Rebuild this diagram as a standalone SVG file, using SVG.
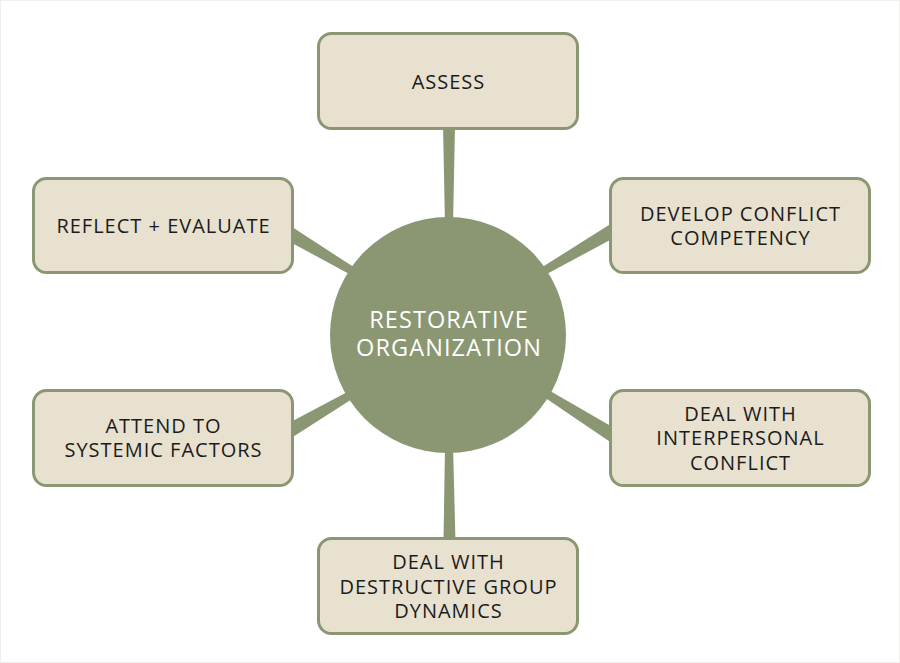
<svg xmlns="http://www.w3.org/2000/svg" width="900" height="663" viewBox="0 0 900 663">
  <style>
    .box rect { fill: #e8e1d0; stroke: #8b9672; stroke-width: 3; }
    .box text { font-family: "Open Sans", "Liberation Sans", sans-serif; font-size: 20px; letter-spacing: 1px; fill: #1b1b1b; text-anchor: middle; }
    .hub circle { fill: #8b9672; }
    .hub text { font-family: "Open Sans", "Liberation Sans", sans-serif; font-size: 23.5px; letter-spacing: 1.1px; fill: #ffffff; text-anchor: middle; }
    .spoke { fill: #8b9672; }
  </style>

  <!-- page -->
  <rect x="0.5" y="0.5" width="899" height="662" fill="#ffffff" stroke="#efefeb" stroke-width="1"/>

  <!-- tapered spokes from the hub to each box -->
  <g id="connectors">
    <polygon class="spoke" points="445,225 453,225 455,125 443,125"/>
    <polygon class="spoke" points="445,445 453,445 455.5,542 443.5,542"/>
    <polygon class="spoke" points="356,268.6 352,275.4 286.4,240 293.6,228"/>
    <polygon class="spoke" points="544,275.5 540,268.5 610.5,224 617.5,236"/>
    <polygon class="spoke" points="356,396.5 352,389.5 286.5,424.2 293.5,436.4"/>
    <polygon class="spoke" points="539.9,394.3 544.1,387.5 617.7,430.1 610.3,441.9"/>
  </g>

  <!-- hub -->
  <g id="hub" class="hub">
    <circle cx="448" cy="335" r="118"/>
    <text x="449" y="328">RESTORATIVE</text>
    <text x="449" y="356">ORGANIZATION</text>
  </g>

  <g id="assess" class="box">
    <rect x="318.5" y="33.5" width="259" height="95" rx="13"/>
    <text x="448.5" y="89">ASSESS</text>
  </g>

  <g id="reflect-evaluate" class="box">
    <rect x="33.5" y="178.5" width="259" height="94" rx="13"/>
    <text x="163.5" y="233">REFLECT + EVALUATE</text>
  </g>

  <g id="develop-conflict-competency" class="box">
    <rect x="610.5" y="178.5" width="259" height="94" rx="13"/>
    <text x="740.5" y="221">DEVELOP CONFLICT</text>
    <text x="740.5" y="245">COMPETENCY</text>
  </g>

  <g id="attend-systemic-factors" class="box">
    <rect x="33.5" y="390.5" width="259" height="95" rx="13"/>
    <text x="163.5" y="433">ATTEND TO</text>
    <text x="163.5" y="457">SYSTEMIC FACTORS</text>
  </g>

  <g id="interpersonal-conflict" class="box">
    <rect x="610.5" y="390.5" width="259" height="95" rx="13"/>
    <text x="740.5" y="420.5">DEAL WITH</text>
    <text x="740.5" y="445">INTERPERSONAL</text>
    <text x="740.5" y="469.5">CONFLICT</text>
  </g>

  <g id="group-dynamics" class="box">
    <rect x="318.5" y="538.5" width="259" height="95" rx="13"/>
    <text x="448.5" y="569">DEAL WITH</text>
    <text x="448.5" y="593.5">DESTRUCTIVE GROUP</text>
    <text x="448.5" y="618">DYNAMICS</text>
  </g>
</svg>
